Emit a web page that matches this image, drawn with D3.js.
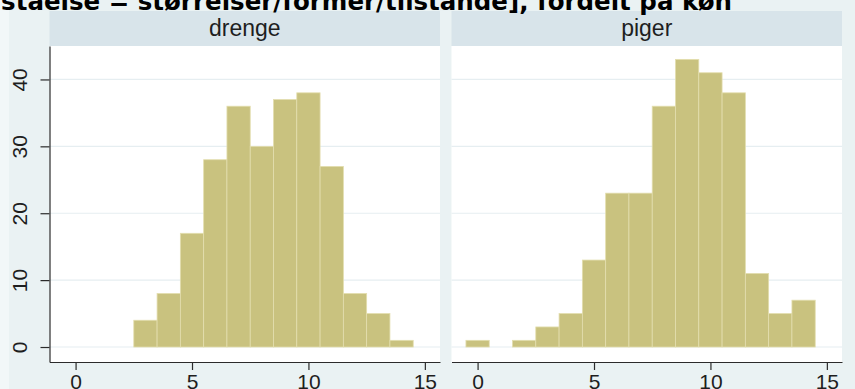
<!DOCTYPE html>
<html>
<head>
<meta charset="utf-8">
<script src="https://cdn.jsdelivr.net/npm/d3@7"></script>
<style>
  html, body { margin: 0; padding: 0; background: #eaf2f3; }
  svg { display: block; }
</style>
</head>
<body>
<svg id="chart" width="855" height="389"></svg>
<script>
// Score values (bin centres) and counts per group
const scores = [0, 1, 2, 3, 4, 5, 6, 7, 8, 9, 10, 11, 12, 13, 14];
const drengeCounts = [0, 0, 0, 4, 8, 17, 28, 36, 30, 37, 38, 27, 8, 5, 1];
const pigerCounts  = [1, 0, 1, 3, 5, 13, 23, 23, 36, 43, 41, 38, 11, 5, 7];
const panelLabels = ["drenge", "piger"];
const xTicks = [0, 5, 10, 15];
const yTicks = [0, 10, 20, 30, 40];
const titleText = "forståelse = størrelser/former/tilstande], fordelt på køn";

const W = 855, H = 389;
const svg = d3.select("#chart");

const C = {
  bg: "#eaf2f3",
  edge: "#f2f7f8",
  strip: "#d8e4ea",
  plot: "#ffffff",
  grid: "#e6eef1",
  bar: "#c9c27f",
  barEdge: "#e3deae",
  axis: "#2b2b2b",
  text: "#1e1e1e"
};

svg.append("rect").attr("width", W).attr("height", H).attr("fill", C.bg);
svg.append("rect").attr("x", 0).attr("y", 0).attr("width", 9).attr("height", H).attr("fill", C.edge);

const plotTop = 46, plotBottom = 362;
const stripTop = 11;
const panels = [
  { label: panelLabels[0], counts: drengeCounts, x0: 49.5, x1: 440, leftAxis: true },
  { label: panelLabels[1], counts: pigerCounts,  x0: 451.5, x1: 842, leftAxis: false }
];

const y = d3.scaleLinear().domain([-2.24, 45]).range([plotBottom, plotTop]);

panels.forEach(p => {
  const x = d3.scaleLinear().domain([-1.12, 15.65]).range([p.x0, p.x1]);
  const g = svg.append("g");

  // strip header
  g.append("rect")
    .attr("x", p.x0).attr("y", stripTop)
    .attr("width", p.x1 - p.x0).attr("height", plotTop - stripTop)
    .attr("fill", C.strip);
  g.append("text")
    .attr("x", (p.x0 + p.x1) / 2).attr("y", 36)
    .attr("text-anchor", "middle")
    .attr("font-family", "'Liberation Sans', Arial, sans-serif")
    .attr("font-size", 23)
    .attr("fill", C.text)
    .text(p.label);

  // plot region
  g.append("rect")
    .attr("x", p.x0).attr("y", plotTop)
    .attr("width", p.x1 - p.x0).attr("height", plotBottom - plotTop)
    .attr("fill", C.plot);

  // horizontal grid lines
  g.selectAll("line.grid").data(yTicks).join("line")
    .attr("class", "grid")
    .attr("x1", p.x0).attr("x2", p.x1)
    .attr("y1", d => y(d)).attr("y2", d => y(d))
    .attr("stroke", C.grid).attr("stroke-width", 1.2);

  // histogram bars (unit-width bins centred on each score)
  const data = scores.map((s, i) => ({ s, n: p.counts[i] })).filter(d => d.n > 0);
  g.selectAll("rect.bar").data(data).join("rect")
    .attr("class", "bar")
    .attr("x", d => x(d.s - 0.5))
    .attr("width", d => x(d.s + 0.5) - x(d.s - 0.5))
    .attr("y", d => y(d.n))
    .attr("height", d => y(0) - y(d.n))
    .attr("fill", C.bar)
    .attr("stroke", C.barEdge)
    .attr("stroke-width", 0.8);

  // x axis
  const xa = g.append("g")
    .attr("transform", `translate(0,${plotBottom})`)
    .call(d3.axisBottom(x).tickValues(xTicks).tickSize(8).tickSizeOuter(0).tickPadding(4));
  xa.select(".domain").attr("stroke", C.axis).attr("stroke-width", 1.2);
  xa.selectAll(".tick line").attr("stroke", C.axis).attr("stroke-width", 1.2);
  xa.selectAll(".tick text")
    .attr("font-family", "'Liberation Sans', Arial, sans-serif")
    .attr("font-size", 21)
    .attr("fill", C.text);

  // y axis (left panel only)
  if (p.leftAxis) {
    const ya = g.append("g")
      .attr("transform", `translate(${p.x0},0)`)
      .call(d3.axisLeft(y).tickValues(yTicks).tickSize(9).tickSizeOuter(0));
    ya.select(".domain").attr("stroke", C.axis).attr("stroke-width", 1.2);
    ya.selectAll(".tick line").attr("stroke", C.axis).attr("stroke-width", 1.2);
    ya.selectAll(".tick text")
      .attr("x", null).attr("dy", null)
      .attr("transform", "translate(-22.5,0) rotate(-90)")
      .attr("text-anchor", "middle")
      .attr("font-family", "'Liberation Sans', Arial, sans-serif")
      .attr("font-size", 21)
      .attr("fill", C.text);
  }
});

// title (runs past the left edge of the canvas)
const title = svg.append("text")
  .attr("x", 732).attr("y", 9.5)
  .attr("text-anchor", "end")
  .attr("font-family", "'DejaVu Sans', Verdana, sans-serif")
  .attr("font-weight", "bold")
  .attr("font-size", 20)
  .attr("fill", "#000")
  .text(titleText);
// size the title so that "ståelse ..." begins at the left edge
{
  const node = title.node();
  const start = titleText.indexOf("ståelse");
  const len = titleText.length - start;
  const w = node.getSubStringLength(start, len);
  const fs = 20 * 731 / w;
  title.attr("font-size", fs);
}
</script>
</body>
</html>
